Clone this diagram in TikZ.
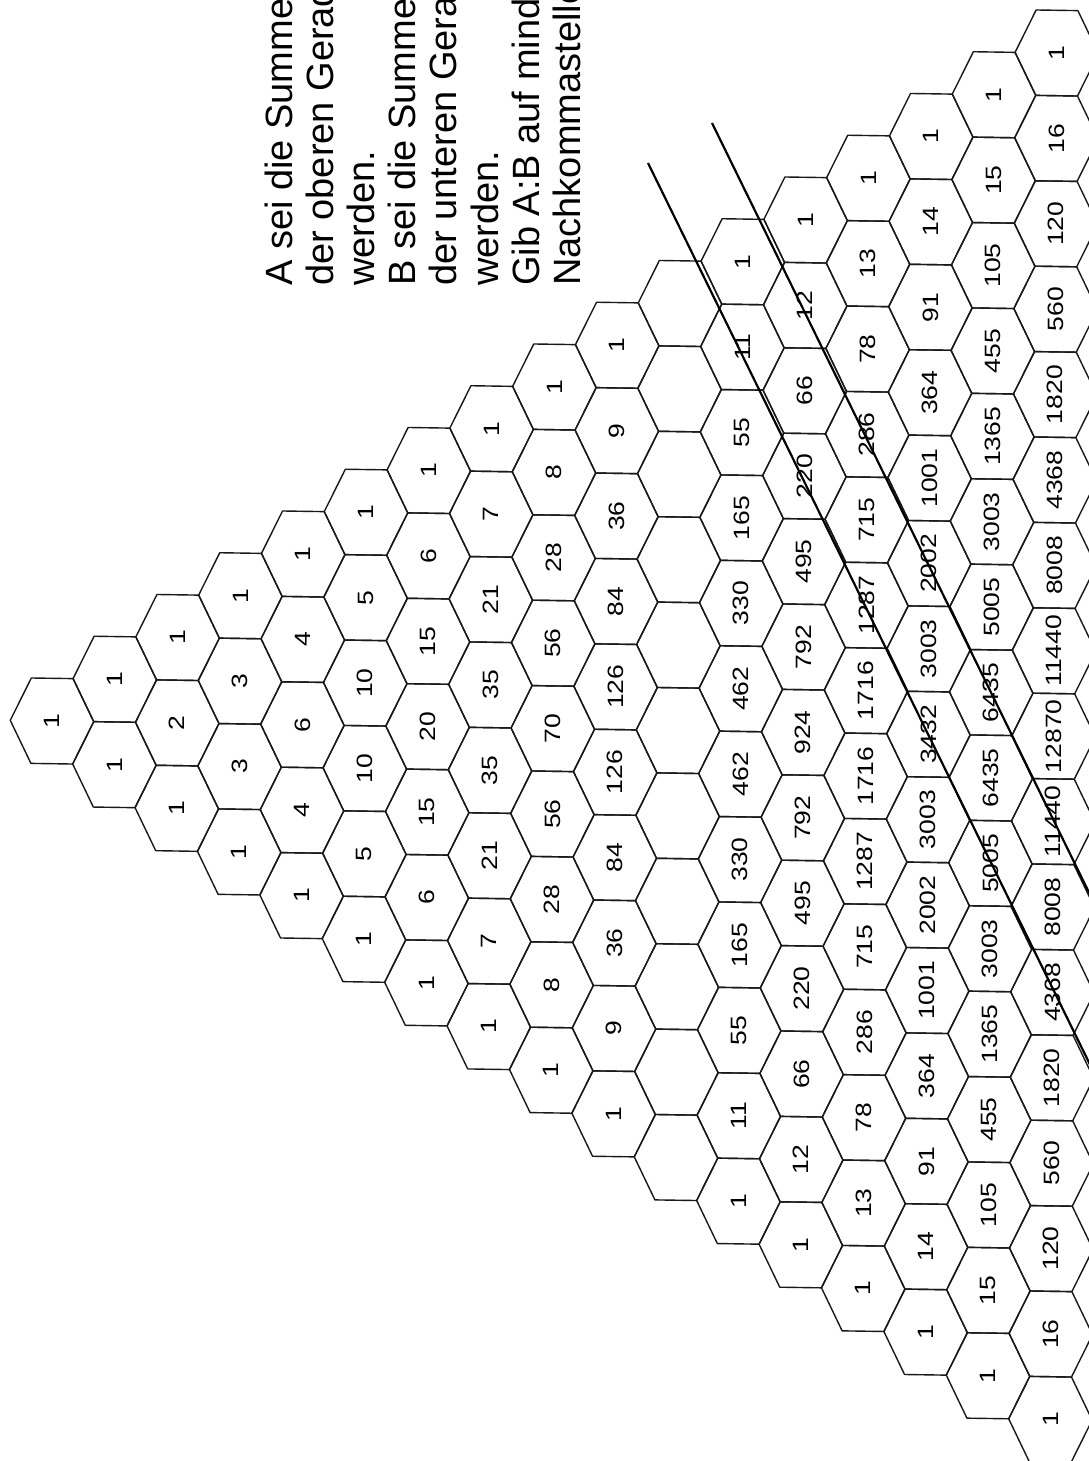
\documentclass[tikz,border=0pt]{standalone}
\usepackage{graphicx}
\usepackage{fontspec}
\setmainfont{Liberation Sans}
\newcommand{\squash}[1]{\scalebox{1}[0.837]{#1}}
\begin{document}
\begin{tikzpicture}[
  hexline/.style={draw=black!90, line width=1.4pt, line join=round},
  numlabel/.style={font=\fontsize{26.5}{30}\selectfont, inner sep=0pt, rotate=90},
  tasktext/.style={font=\fontsize{38}{41}\selectfont, inner sep=0pt, anchor=base west, rotate=90},
  diagline/.style={draw=black, line width=2.2pt}
]
\fill[white] (0pt,0pt) rectangle (1089pt,-1461pt);
\useasboundingbox (0pt,0pt) rectangle (1089pt,-1461pt);
\clip (0pt,0pt) rectangle (1089pt,-1461pt);

% task text
\node[tasktext] (t1) at (292pt,-286pt) {A sei die Summe};
\node[tasktext] (t2) at (333.2pt,-286pt) {der oberen Gerad};
\node[tasktext] (t3) at (374.4pt,-286pt) {werden.};
\node[tasktext] (t4) at (415.6pt,-286pt) {B sei die Summe};
\node[tasktext] (t5) at (456.8pt,-286pt) {der unteren Gerad};
\node[tasktext] (t6) at (498pt,-286pt) {werden.};
\node[tasktext] (t7) at (539.2pt,-286pt) {Gib A:B auf minde};
\node[tasktext] (t8) at (580.4pt,-286pt) {Nachkommastelle};

\begin{scope}[shift={(52pt,-721pt)}, x={(62.6pt,-0.95pt)}, y={(-0.4pt,-85.4pt)}]
  \foreach \r in {0,...,16}{
    \foreach \k in {0,...,\r}{
      \draw[hexline] ({\r},{\k-\r/2}) ++(-2/3,0) -- ++(1/3,-0.5) -- ++(2/3,0)
        -- ++(1/3,0.5) -- ++(-1/3,0.5) -- ++(-2/3,0) -- cycle;
    }
  }
  \foreach \r/\vals in {
    0/{1},
    1/{1,1},
    2/{1,2,1},
    3/{1,3,3,1},
    4/{1,4,6,4,1},
    5/{1,5,10,10,5,1},
    6/{1,6,15,20,15,6,1},
    7/{1,7,21,35,35,21,7,1},
    8/{1,8,28,56,70,56,28,8,1},
    9/{1,9,36,84,126,126,84,36,9,1},
    11/{1,11,55,165,330,462,462,330,165,55,11,1},
    12/{1,12,66,220,495,792,924,792,495,220,66,12,1},
    13/{1,13,78,286,715,1287,1716,1716,1287,715,286,78,13,1},
    14/{1,14,91,364,1001,2002,3003,3432,3003,2002,1001,364,91,14,1},
    15/{1,15,105,455,1365,3003,5005,6435,6435,5005,3003,1365,455,105,15,1},
    16/{1,16,120,560,1820,4368,8008,11440,12870,11440,8008,4368,1820,560,120,16,1}}{
    \foreach \v [count=\k from 0] in \vals {
      \node[numlabel] (n-\r-\k) at ({\r},{\k-\r/2}) {\squash{\v}};
    }
  }
\end{scope}

% the two straight lines
\coordinate (la1) at (648pt,-163pt);
\coordinate (lb1) at (1100pt,-1085pt);
\coordinate (la2) at (712pt,-123pt);
\coordinate (lb2) at (1100pt,-915pt);
\draw[diagline] (la1) -- (lb1);
\draw[diagline] (la2) -- (lb2);
\end{tikzpicture}
\end{document}
